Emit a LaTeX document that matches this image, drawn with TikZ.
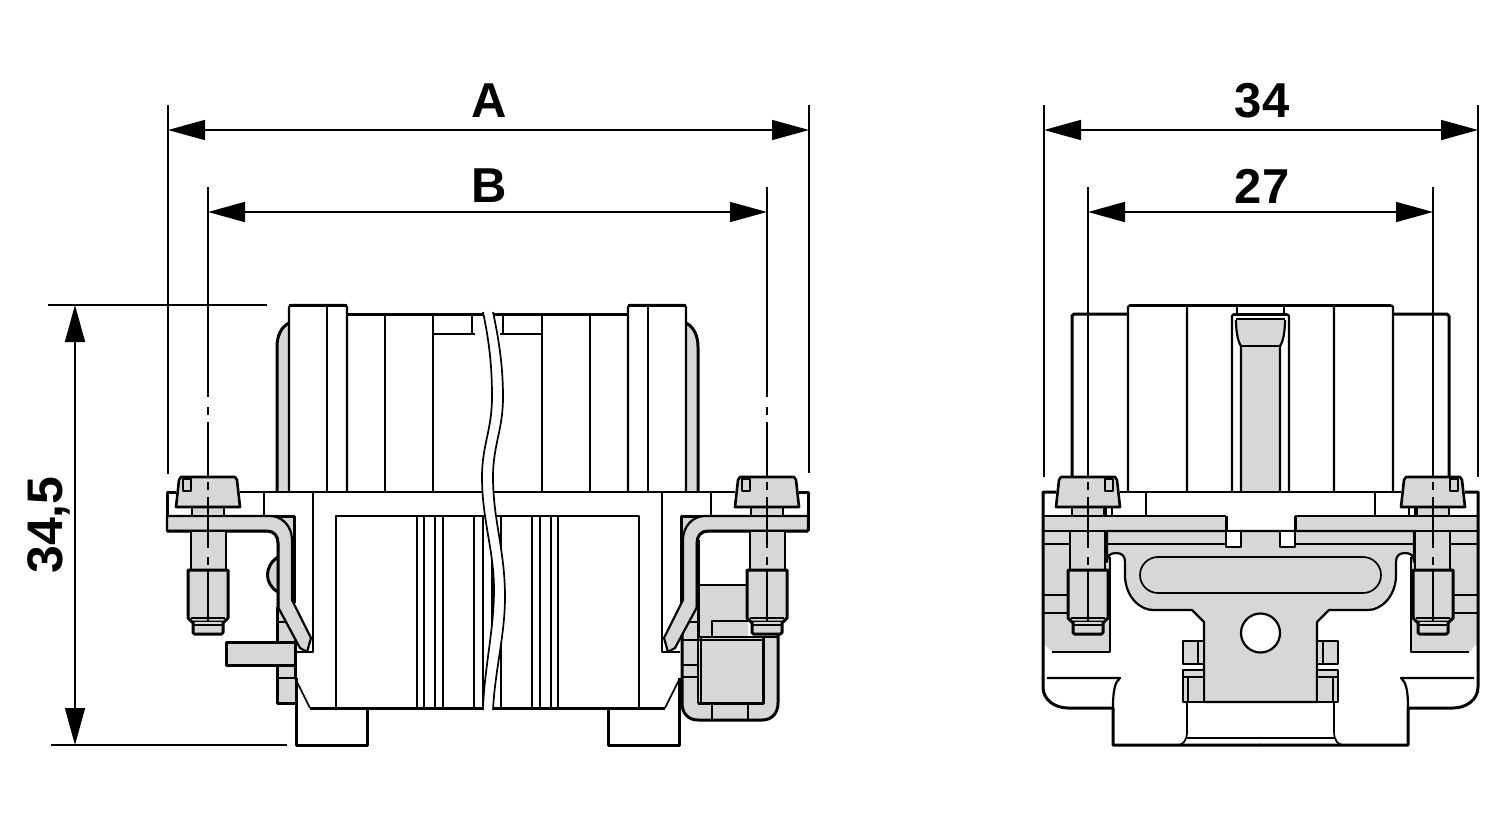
\documentclass[tikz,border=0pt]{standalone}
\usepackage{fontspec}
\setmainfont{Liberation Sans}
\usetikzlibrary{arrows.meta}
\definecolor{partgray}{HTML}{D6D7D9}
\tikzset{
  thn/.style = {line width=1.7pt, line join=round},
  mid/.style = {line width=2.2pt, line join=round},
  thk/.style = {line width=3pt, line join=round},
  part/.style = {fill=partgray, draw=black, mid},
  ext/.style = {line width=1.5pt},
  dimline/.style = {line width=1.6pt, {Triangle[length=37pt,width=20pt]}-{Triangle[length=37pt,width=20pt]}},
  dimtext/.style = {font=\fontsize{49}{52}\selectfont\bfseries, inner sep=0pt},
  screw/.pic = {
    \draw[part] (-16,507) rectangle (16,516);
    \draw[part] (-17,531) rectangle (18,570);
    \draw[part,thk] (-20,570) -- (20,570) -- (20,618) -- (16,622) -- (-16,622) -- (-20,618) -- cycle;
    \draw[thn] (-17,618) -- (17,618) (0,570) -- (0,622);
    \draw[part,thk,rounded corners=1.5pt] (-15,622) -- (-15,634) -- (15,634) -- (15,622);
    \draw[thn] (-14,625) -- (14,625);
    \draw[part,line width=2.6pt] (-32,507) -- (-29,480) -- (-27,477) -- (27,477) -- (29,480) -- (32,507) -- cycle;
    \draw[thn] (-25,479) rectangle (-17,491);
    \draw[thn] (0,482) -- (0,490) (0,497) -- (0,548) (0,557) -- (0,565);
  },
  halfbody/.pic = {
    % housing above the flange
    \fill[partgray] (289,323) .. controls (281,327) and (277,336) .. (277,347) -- (277,492) -- (289,492) -- cycle;
    \draw[thk] (289,323) .. controls (281,327) and (277,336) .. (277,347) -- (277,492);
    \draw[mid] (289,492) -- (289,307) -- (291,305) -- (345,305) -- (347,307) -- (347,492);
    \draw[thk] (289,305) -- (347,305) (347,314) -- (490,314);
    \draw[thn] (327,305) -- (327,492) (385,314) -- (385,492) (472,314) -- (472,334);
    \draw[mid] (433,314) -- (433,492) (433,334) -- (475,334);
    % flange and lower body
    \draw[thk] (167,531) -- (167,492) -- (176,492);
    \draw[mid] (240,492) -- (490,492);
    \draw[thn] (264,492) -- (264,516) (313,492) -- (313,652) -- (295,652);
    \draw[mid] (336,708) -- (336,516) -- (490,516);
    \foreach \x in {417,424,435,443,474,483}
      \draw[mid] (\x,516) -- (\x,708);
    \draw[thn] (295,678) -- (310,708);
    \draw[thk] (310,708) -- (490,708) (367,708) -- (367,745) -- (296,745) -- (296,678);
    % bracket
    \fill[partgray] (268,516) -- (294,516) -- (294,545) -- cycle;
    \draw[thk] (264,516) -- (294,516) -- (294,603);
    \draw[part] (167,516) -- (270,516) .. controls (282,516) and (292,526) .. (292,540) -- (292,600) -- (311,638)
      -- (307,652) -- (300,648) -- (278,607) -- (278,543) .. controls (278,536) and (274,531) .. (267,531) -- (167,531) -- cycle;
    \draw[thk] (167,531) -- (267,531) .. controls (274,531) and (278,536) .. (278,543) -- (278,607);
  },
  sideview/.pic = {
    % housing above the flange
    \draw[thk] (1072,477) -- (1072,316) -- (1074,314) -- (1128,314);
    \draw[mid] (1128,492) -- (1128,307) -- (1130,305);
    \draw[thk] (1130,305) -- (1261,305);
    \draw[mid] (1187,305) -- (1187,492) (1232,492) -- (1232,316) -- (1234,314) (1241,346) -- (1241,492);
    \draw[thk] (1234,314) -- (1261,314);
    \draw[thn] (1237,305) -- (1237,314) (1236,319) -- (1261,319) (1241,346) -- (1261,346);
    \draw[mid] (1236,320) .. controls (1236,332) and (1238,342) .. (1241,346);
    % flange, bars and side strip
    \draw[mid] (1120,492) -- (1261,492);
    \draw[thn] (1146,492) -- (1146,516) (1044,595) -- (1068,595) (1044,613) -- (1068,613);
    \draw[thn] (1106,507) rectangle (1112,516);
    \draw[mid] (1044,516) -- (1226,516) (1044,531) -- (1226,531) (1044,544) -- (1225,544);
    \draw[thk] (1226,516) -- (1226,531);
    \draw[mid] (1110,557) -- (1110,652) -- (1052,652);
    \draw[thk] (1056,492) -- (1043,492) -- (1043,687) .. controls (1043,700) and (1055,708) .. (1068,708) -- (1113,708) -- (1113,745) -- (1261,745);
    \draw[mid] (1047,678) -- (1120,678) .. controls (1115,682) and (1113,690) .. (1113,708);
    \draw[thn] (1187,702) -- (1187,732) .. controls (1187,740) and (1183,745) .. (1178,745) (1187,738) -- (1261,738);
    % small pieces beside the plate
    \draw[part] (1183,641) rectangle (1204,664);
    \draw[part] (1183,670) rectangle (1204,702);
    \draw[thn] (1198,641) -- (1198,664) (1183,677) -- (1204,677) (1188,677) -- (1188,702);
  }
}
\begin{document}
\begin{tikzpicture}[x=1pt, y=-1pt]
\useasboundingbox (0,0) rectangle (1500,820);

% dimension end points
\coordinate (aL) at (168,130);
\coordinate (aR) at (809,130);
\coordinate (bL) at (208,212);
\coordinate (bR) at (767,212);
\coordinate (hT) at (75,305);
\coordinate (hB) at (75,745);
\coordinate (wL) at (1044,130);
\coordinate (wR) at (1478,130);
\coordinate (pL) at (1088,212);
\coordinate (pR) at (1433,212);

% front view, parts only on one side
\path[fill=partgray] (277,607) -- (295,637) -- (295,703) -- (277,703) -- cycle;
\draw[thk] (277,607) -- (277,703) -- (295,703);
\draw[thn] (277,622) -- (287,622) (277,642) -- (295,642) (277,665) -- (295,665) (277,678) -- (295,678);
\draw[part,thk] (278,557) .. controls (264,566) and (264,584) .. (278,592);
\draw[part,thk] (295,642) -- (226,642) -- (226,665) -- (295,665);
\draw[thk] (295,620) -- (295,678);

\path[fill=partgray] (682,600) -- (698,585) -- (748,585) -- (748,637) -- (778,637) -- (778,703)
  .. controls (778,713) and (772,720) .. (762,720) -- (698,720) .. controls (688,720) and (682,713) .. (682,703) -- cycle;
\draw[thn] (698,585) -- (748,585);
\draw[thk] (698,540) -- (698,703);
\draw[thk] (682,600) -- (682,703) .. controls (682,713) and (688,720) .. (698,720) -- (762,720) .. controls (772,720) and (778,713) .. (778,703) -- (778,634);
\draw[thn] (712,637) -- (712,621) -- (748,621) (682,622) -- (698,622) (682,640) -- (698,640) (682,665) -- (698,665) (682,677) -- (698,677);
\draw[part] (698,637) rectangle (763,703);
\draw[mid] (701,637) -- (701,703) (698,640) -- (763,640);
\draw[thk] (698,703) -- (763,703) -- (763,637);
\draw[thn] (763,637) -- (778,637) (712,703) -- (712,720) (748,703) -- (748,720);

\pic at (0,0) {halfbody};
\pic[xscale=-1] at (975,0) {halfbody};
\pic at (208,0) {screw};
\pic at (767,0) {screw};

% break in the front view
\fill[white] (483,312) .. controls (490,345) and (492,370) .. (492,397) .. controls (492,430) and (482,445) .. (482,477)
  .. controls (482,520) and (494,550) .. (494,590) .. controls (494,630) and (484,670) .. (483,710)
  -- (493,710) .. controls (495,670) and (505,635) .. (505,597) .. controls (505,550) and (493,520) .. (493,477)
  .. controls (493,445) and (503,430) .. (503,397) .. controls (503,370) and (500,345) .. (493,312) -- cycle;
\draw[thn] (483,312) .. controls (490,345) and (492,370) .. (492,397) .. controls (492,430) and (482,445) .. (482,477)
  .. controls (482,520) and (494,550) .. (494,590) .. controls (494,630) and (484,670) .. (483,710);
\draw[thn] (493,312) .. controls (500,345) and (503,370) .. (503,397) .. controls (503,430) and (493,445) .. (493,477)
  .. controls (493,520) and (505,550) .. (505,597) .. controls (505,635) and (495,670) .. (493,710);

% side view, middle parts
\path[fill=partgray] (1236,319) -- (1285,319) .. controls (1285,332) and (1283,342) .. (1280,346) -- (1280,492) -- (1241,492) -- (1241,346) .. controls (1238,342) and (1236,332) .. (1236,319) -- cycle;
\fill[partgray] (1044,516) rectangle (1226,531);
\fill[partgray] (1295,516) rectangle (1477,531);
\path[fill=partgray] (1044,531) -- (1110,531) -- (1110,652) -- (1052,652) -- (1044,644) -- cycle;
\path[fill=partgray] (1477,531) -- (1411,531) -- (1411,652) -- (1469,652) -- (1477,644) -- cycle;
\draw[part] (1107,531) -- (1107,562) .. controls (1107,556) and (1110,553) .. (1116,553) .. controls (1122,553) and (1125,556) .. (1125,562)
  -- (1125,577) .. controls (1126,597) and (1140,610) .. (1153,610) -- (1192,610) -- (1204,622) -- (1204,702)
  -- (1317,702) -- (1317,622) -- (1329,610) -- (1368,610) .. controls (1381,610) and (1395,597) .. (1396,577)
  -- (1396,562) .. controls (1396,556) and (1399,553) .. (1405,553) .. controls (1411,553) and (1414,556) .. (1414,562)
  -- (1414,531) -- cycle;
\draw[thn] (1158,557) -- (1363,557) arc[start angle=-90, end angle=90, radius=18] -- (1158,593) arc[start angle=90, end angle=270, radius=18] -- cycle;
\draw[fill=white, mid] (1260.5,633) circle[radius=19.5];
\draw[fill=white, mid] (1226,531) rectangle (1241,547);
\draw[fill=white, mid] (1280,531) rectangle (1295,547);

\pic at (0,0) {sideview};
\pic[xscale=-1] at (2521,0) {sideview};
\pic[xscale=-1] at (1088,0) {screw};
\pic[xscale=-1] at (1433,0) {screw};
\draw[mid] (1088,314) -- (1088,477) (1433,314) -- (1433,477);

% extension lines and axis marks
\foreach \x/\ya/\yb in {168/105/474, 809/105/473, 1044/105/477, 1478/105/477, 208/187/397, 767/187/397, 1088/187/397, 1433/187/397}
  \draw[ext] (\x,\ya) -- (\x,\yb);
\foreach \x in {208,767}
  \draw[ext] (\x,407) -- (\x,415) (\x,422) -- (\x,477);
\draw[ext] (48,305) -- (267,305) (51,745) -- (287,745);

% dimension lines
\draw[dimline] (aL) -- (aR);
\draw[dimline] (bL) -- (bR);
\draw[dimline] (wL) -- (wR);
\draw[dimline] (pL) -- (pR);
\draw[dimline] (hT) -- (hB);

\node[dimtext] (labA) at (489,101) {A};
\node[dimtext] (labB) at (489,186) {B};
\node[dimtext] (lab34) at (1262,101) {34};
\node[dimtext] (lab27) at (1262,186) {27};
\node[dimtext, rotate=90, font=\fontsize{50}{52}\selectfont\bfseries] (labH) at (49,525) {34,5};
\end{tikzpicture}
\end{document}
